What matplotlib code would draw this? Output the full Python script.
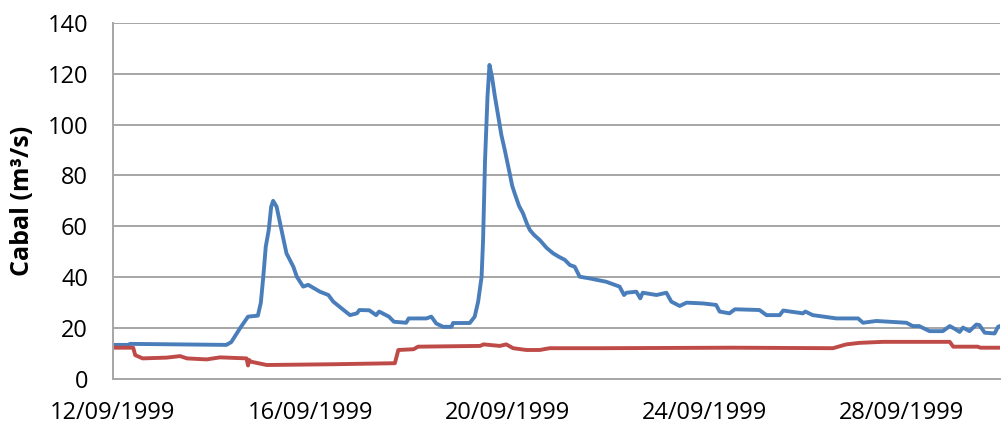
import matplotlib
matplotlib.use("Agg")
import matplotlib.pyplot as plt
import matplotlib.dates as mdates
import pandas as pd

# days since 12/09/1999 00:00 and discharge (m3/s)
blue_days = [0.0, 0.3, 0.35, 2.3, 2.4, 2.58, 2.74, 2.94, 3.0, 3.05, 3.1, 3.16,
             3.21, 3.25, 3.32, 3.42, 3.52, 3.66, 3.73, 3.86, 3.96, 4.2, 4.37,
             4.47, 4.68, 4.81, 4.95, 5.0, 5.2, 5.34, 5.4, 5.6, 5.7, 5.95, 6.0,
             6.36, 6.46, 6.56, 6.7, 6.87, 6.9, 7.24, 7.34, 7.41, 7.48, 7.51,
             7.55, 7.6, 7.64, 7.69, 7.75, 7.82, 7.88, 7.95, 8.05, 8.1, 8.15,
             8.24, 8.32, 8.4, 8.46, 8.55, 8.66, 8.8, 8.93, 9.05, 9.17, 9.27,
             9.37, 9.47, 9.68, 10.01, 10.18,
             10.28, 10.37, 10.42, 10.62, 10.7, 10.75, 11.03, 11.23, 11.33, 11.5,
             11.64, 11.97, 12.24, 12.31, 12.51, 12.62, 13.12, 13.26, 13.53,
             13.6, 14.0, 14.05, 14.2, 14.68, 15.12, 15.22, 15.49, 16.1, 16.23,
             16.36, 16.57, 16.84, 16.98, 17.1, 17.18, 17.25, 17.38, 17.52,
             17.58, 17.69, 17.89, 17.96, 18.0]
blue_vals = [13.4, 13.4, 13.8, 13.4, 14.5, 20.0, 24.5, 24.9, 30.0, 40.2, 52.0,
             58.5, 67.7, 70.0, 67.7, 58.5, 49.4, 44.1, 40.2, 36.3, 37.0, 34.3,
             33.0, 30.4, 27.1, 25.1, 25.8, 27.1, 27.0, 25.1, 26.5, 24.5, 22.5,
             22.1, 23.8, 23.8, 24.5, 21.8, 20.5, 20.5, 22.0, 22.0, 24.5, 30.4,
             40.2, 54.6, 86.0, 111.0, 123.4, 118.8, 111.0, 103.0, 96.0, 90.0,
             80.8, 76.0, 73.0, 68.0, 65.1, 61.0, 58.5, 56.5, 54.6, 51.5, 49.4,
             48.0, 46.8, 44.8, 44.1, 40.2, 39.5,
             38.2, 37.0, 36.3, 33.0, 33.9, 34.3, 31.7, 33.9, 33.0, 33.9, 30.4,
             28.7, 30.0, 29.7, 29.1, 26.5, 25.8, 27.4, 27.1, 25.1, 25.1, 26.9,
             25.8, 26.5, 25.1, 23.8, 23.8, 22.1, 22.8, 22.1, 20.8, 20.8, 18.8,
             18.8, 20.8, 19.5, 18.5, 20.2, 18.8, 21.4, 21.2, 18.2, 17.9, 20.5,
             20.8]

red_days = [0.0, 0.41, 0.45, 0.6, 1.09, 1.36, 1.5, 1.9, 2.17, 2.71, 2.74,
            2.76, 2.8, 3.12, 4.47, 5.72, 5.79, 6.1, 6.19, 7.45, 7.52, 7.85,
            7.98, 8.12, 8.39, 8.66, 8.86, 9.88, 12.58, 14.61, 14.88, 15.15,
            15.62, 16.98, 17.05, 17.55, 17.6, 18.0]
red_vals = [12.3, 12.3, 9.4, 8.1, 8.4, 9.0, 8.1, 7.7, 8.5, 8.1, 5.3, 7.5, 6.8,
            5.5, 5.8, 6.2, 11.4, 11.7, 12.7, 13.0, 13.6, 13.0, 13.6, 12.1,
            11.4, 11.4, 12.1, 12.1, 12.3, 12.1, 13.6, 14.2, 14.6, 14.6, 12.7,
            12.7, 12.3, 12.3]

y_ticks = [0, 20, 40, 60, 80, 100, 120, 140]

start = pd.Timestamp("1999-09-12")
blue_t = start + pd.to_timedelta(blue_days, unit="D")
red_t = start + pd.to_timedelta(red_days, unit="D")

plt.rcParams.update({
    "font.family": ["Open Sans", "DejaVu Sans"],
    "font.size": 17,
})

fig = plt.figure(figsize=(10.02, 4.25), dpi=100)
ax = fig.add_axes([113 / 1002, 1 - 379 / 425, 887 / 1002, (379 - 22.7) / 425])

ax.plot(blue_t, blue_vals, color="#4a7ebb", linewidth=2.8, solid_joinstyle="round")
ax.plot(red_t, red_vals, color="#be4b48", linewidth=2.8, solid_joinstyle="round")

ax.set_ylim(0, 140)
ax.set_yticks(y_ticks)
ax.set_xlim(start, start + pd.Timedelta(days=18))
ax.xaxis.set_major_locator(mdates.DayLocator(bymonthday=[12, 16, 20, 24, 28]))
ax.xaxis.set_major_formatter(mdates.DateFormatter("%d/%m/%Y"))

ax.grid(axis="y", color="#a6a6a6", linewidth=1.4)
ax.set_axisbelow(True)
for side in ("top", "right"):
    ax.spines[side].set_visible(False)
for side in ("left", "bottom"):
    ax.spines[side].set_color("#a6a6a6")
    ax.spines[side].set_linewidth(1.4)
ax.tick_params(axis="y", length=0, pad=18)
ax.tick_params(axis="x", length=0, pad=16)

ax.set_ylabel("Cabal (m³/s)", fontsize=18, fontweight="bold")
ax.yaxis.set_label_coords(-(113 - 35) / 887, 0.5)

fig.savefig("out.png", dpi=100)
